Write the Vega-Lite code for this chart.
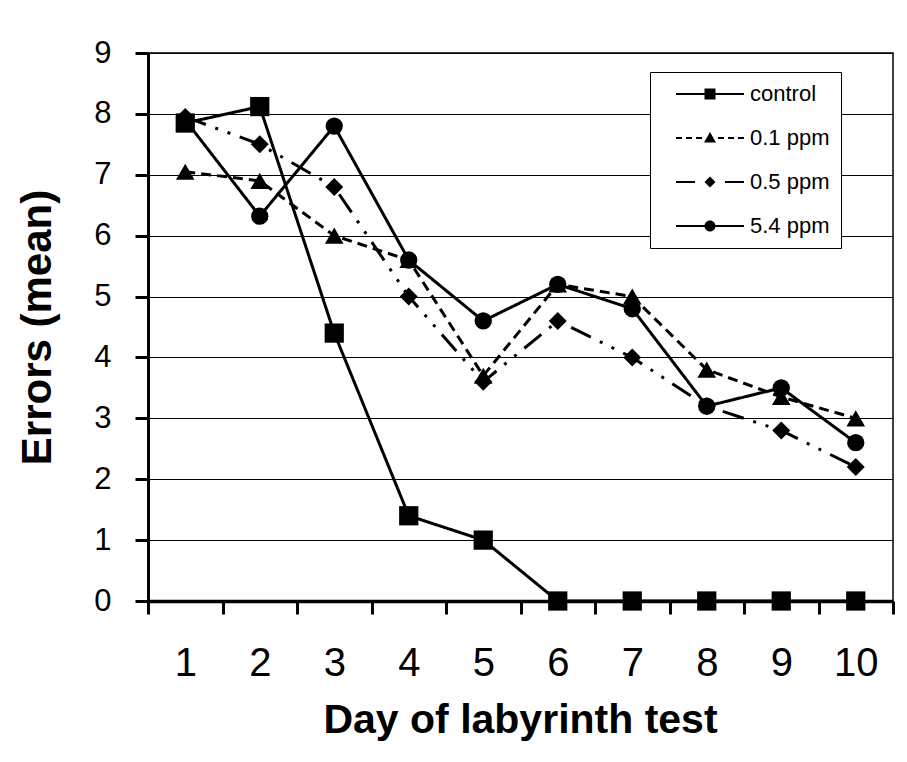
{
  "$schema": "https://vega.github.io/schema/vega-lite/v6.json",
  "width": 745,
  "height": 548,
  "autosize": {"type": "none"},
  "padding": {"left": 148, "top": 53, "right": 14, "bottom": 161},
  "background": "white",
  "config": {
    "font": "Liberation Sans",
    "view": {"stroke": "black", "strokeWidth": 1.5}
  },
  "data": {
    "values": [
      {"day": 1, "series": "control", "errors": 7.85},
      {"day": 2, "series": "control", "errors": 8.12},
      {"day": 3, "series": "control", "errors": 4.4},
      {"day": 4, "series": "control", "errors": 1.4},
      {"day": 5, "series": "control", "errors": 1.0},
      {"day": 6, "series": "control", "errors": 0},
      {"day": 7, "series": "control", "errors": 0},
      {"day": 8, "series": "control", "errors": 0},
      {"day": 9, "series": "control", "errors": 0},
      {"day": 10, "series": "control", "errors": 0},
      {"day": 1, "series": "0.1 ppm", "errors": 7.05},
      {"day": 2, "series": "0.1 ppm", "errors": 6.9},
      {"day": 3, "series": "0.1 ppm", "errors": 6.0},
      {"day": 4, "series": "0.1 ppm", "errors": 5.6},
      {"day": 5, "series": "0.1 ppm", "errors": 3.7},
      {"day": 6, "series": "0.1 ppm", "errors": 5.2},
      {"day": 7, "series": "0.1 ppm", "errors": 5.0},
      {"day": 8, "series": "0.1 ppm", "errors": 3.8},
      {"day": 9, "series": "0.1 ppm", "errors": 3.35},
      {"day": 10, "series": "0.1 ppm", "errors": 3.0},
      {"day": 1, "series": "0.5 ppm", "errors": 7.95},
      {"day": 2, "series": "0.5 ppm", "errors": 7.5},
      {"day": 3, "series": "0.5 ppm", "errors": 6.8},
      {"day": 4, "series": "0.5 ppm", "errors": 5.0},
      {"day": 5, "series": "0.5 ppm", "errors": 3.6},
      {"day": 6, "series": "0.5 ppm", "errors": 4.6},
      {"day": 7, "series": "0.5 ppm", "errors": 4.0},
      {"day": 8, "series": "0.5 ppm", "errors": 3.2},
      {"day": 9, "series": "0.5 ppm", "errors": 2.8},
      {"day": 10, "series": "0.5 ppm", "errors": 2.2},
      {"day": 1, "series": "5.4 ppm", "errors": 7.9},
      {"day": 2, "series": "5.4 ppm", "errors": 6.32},
      {"day": 3, "series": "5.4 ppm", "errors": 7.8},
      {"day": 4, "series": "5.4 ppm", "errors": 5.6},
      {"day": 5, "series": "5.4 ppm", "errors": 4.6},
      {"day": 6, "series": "5.4 ppm", "errors": 5.2},
      {"day": 7, "series": "5.4 ppm", "errors": 4.8},
      {"day": 8, "series": "5.4 ppm", "errors": 3.2},
      {"day": 9, "series": "5.4 ppm", "errors": 3.5},
      {"day": 10, "series": "5.4 ppm", "errors": 2.6}
    ]
  },
  "encoding": {
    "x": {
      "field": "day",
      "type": "ordinal",
      "bandPosition": 0.5,
      "scale": {"type": "band", "domain": [1, 2, 3, 4, 5, 6, 7, 8, 9, 10], "paddingInner": 0, "paddingOuter": 0},
      "axis": {
        "title": "Day of labyrinth test",
        "titleFont": "Liberation Sans",
        "titleFontSize": 41,
        "titleFontWeight": "bold",
        "titleColor": "black",
        "titleX": 372,
        "titleY": 119,
        "titleAlign": "center",
        "titleBaseline": "middle",
        "tickBand": "extent",
        "labelAngle": 0,
        "labelFont": "Liberation Sans",
        "labelFontSize": 40,
        "labelColor": "black",
        "labelBaseline": "middle",
        "labelPadding": 49,
        "tickSize": 13,
        "tickWidth": 3,
        "tickColor": "black",
        "domainColor": "black",
        "domainWidth": 3.5,
        "grid": false
      }
    },
    "y": {
      "field": "errors",
      "type": "quantitative",
      "scale": {"domain": [0, 9], "nice": false, "zero": true},
      "axis": {
        "title": "Errors (mean)",
        "titleFont": "Liberation Sans",
        "titleFontSize": 42,
        "titleFontWeight": "bold",
        "titleColor": "black",
        "titleAngle": -90,
        "titleX": -111,
        "titleY": 274,
        "titleAlign": "center",
        "titleBaseline": "middle",
        "values": [0, 1, 2, 3, 4, 5, 6, 7, 8, 9],
        "labelFontSize": 31,
        "labelColor": "black",
        "labelPadding": 24,
        "tickSize": 13,
        "tickWidth": 3,
        "tickColor": "black",
        "domainColor": "black",
        "domainWidth": 3,
        "grid": true,
        "gridColor": "black",
        "gridWidth": 1.2,
        "gridOpacity": 1
      }
    }
  },
  "resolve": {
    "scale": {"shape": "independent", "strokeDash": "independent"},
    "legend": {"shape": "independent", "strokeDash": "independent"}
  },
  "layer": [
    {
      "mark": {"type": "line", "strokeWidth": 3, "color": "black"},
      "encoding": {
        "strokeDash": {
          "field": "series",
          "type": "nominal",
          "scale": {
            "domain": ["control", "0.1 ppm", "0.5 ppm", "5.4 ppm"],
            "range": [[1, 0], [10, 6], [22, 10, 3, 10, 3, 10], [1, 0]]
          },
          "legend": null
        }
      }
    },
    {
      "mark": {"type": "point", "filled": true, "color": "black", "opacity": 1},
      "encoding": {
        "shape": {
          "field": "series",
          "type": "nominal",
          "scale": {
            "domain": ["control", "0.1 ppm", "0.5 ppm", "5.4 ppm"],
            "range": ["square", "triangle-up", "diamond", "circle"]
          },
          "legend": null
        },
        "size": {
          "field": "series",
          "type": "nominal",
          "scale": {
            "domain": ["control", "0.1 ppm", "0.5 ppm", "5.4 ppm"],
            "range": [370, 300, 240, 270]
          },
          "legend": null
        }
      }
    },
    {
      "transform": [{"filter": "datum.day > 100"}],
      "mark": {"type": "point", "filled": true, "color": "black", "opacity": 1, "size": 400},
      "encoding": {
        "shape": {
          "field": "series",
          "type": "nominal",
          "scale": {
            "domain": ["control", "0.1 ppm", "0.5 ppm", "5.4 ppm"],
            "range": [
              "M-3.4,-0.1H3.4V0.1H-3.4ZM-0.55,-0.55H0.55V0.55H-0.55Z",
              "M-3.4,-0.1H-2.8V0.1H-3.4ZM-2.4,-0.1H-1.8V0.1H-2.4ZM-1.4,-0.1H-0.8V0.1H-1.4ZM0.8,-0.1H1.4V0.1H0.8ZM1.8,-0.1H2.4V0.1H1.8ZM2.8,-0.1H3.4V0.1H2.8ZM0,-0.6L0.6,0.45H-0.6Z",
              "M-3.4,-0.1H-1.5V0.1H-3.4ZM1.5,-0.1H3.4V0.1H1.5ZM0,-0.55L0.55,0L0,0.55L-0.55,0Z",
              "M-3.4,-0.1H3.4V0.1H-3.4ZM-0.55,0A0.55,0.55,0,1,1,0.55,0A0.55,0.55,0,1,1,-0.55,0Z"
            ]
          },
          "legend": {
            "orient": "none",
            "legendX": 502,
            "legendY": 19,
            "title": null,
            "fillColor": "white",
            "strokeColor": "black",
            "padding": 11,
            "rowPadding": 22,
            "symbolSize": 400,
            "symbolOffset": 38,
            "labelOffset": 29,
            "symbolFillColor": "black",
            "symbolOpacity": 1,
            "labelFont": "Liberation Sans",
            "labelFontSize": 22,
            "labelColor": "black"
          }
        }
      }
    }
  ]
}
